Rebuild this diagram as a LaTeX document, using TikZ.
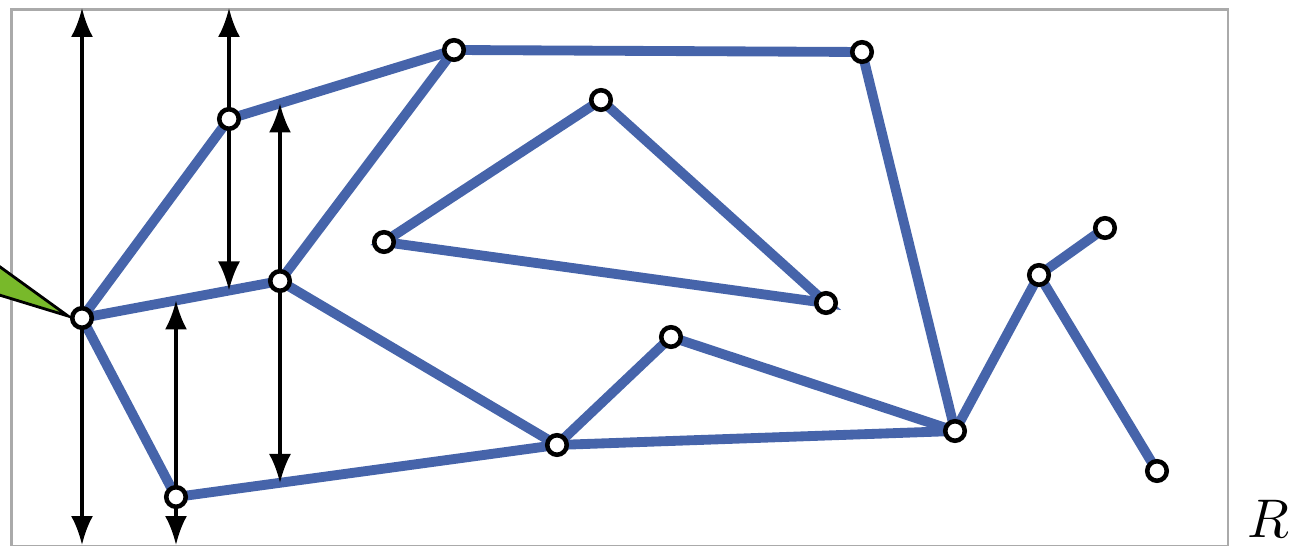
\documentclass[tikz,border=0pt]{standalone}
\usetikzlibrary{arrows.meta}
\definecolor{edgeblue}{HTML}{4664AA}
\definecolor{conegreen}{HTML}{78B92A}
\definecolor{framegray}{HTML}{AAAAAA}
\begin{document}
\begin{tikzpicture}[x=0.02cm,y=-0.02cm,
  edge/.style={edgeblue,line width=5.6pt,line cap=round},
  vtx/.style={circle,draw=black,fill=white,line width=2.6pt,minimum size=0.39cm,inner sep=0pt},
  ray/.style={black,line width=2pt,{Latex[length=0.58cm,width=0.44cm]}-{Latex[length=0.58cm,width=0.44cm]}}]
\useasboundingbox (0,0) rectangle (1303,546);
\clip (0,0) rectangle (1303,546);
% frame
\node[draw=framegray,line width=1.5pt,minimum width=24.34cm,minimum height=10.74cm,inner sep=0pt,anchor=north west] (frame) at (10,8) {};
% points
\coordinate (A) at (82,318);
\coordinate (B) at (229,119);
\coordinate (C) at (280,281);
\coordinate (D) at (454,50);
\coordinate (E) at (862,52);
\coordinate (F) at (176,497);
\coordinate (G) at (557,445);
\coordinate (H) at (671,337);
\coordinate (I) at (955,431);
\coordinate (J) at (1039,275);
\coordinate (K) at (1105,228);
\coordinate (L) at (1157,471);
\coordinate (M) at (601,100);
\coordinate (N) at (384,242);
\coordinate (O) at (826,303);
% green cone
\filldraw[fill=conegreen,draw=black,line width=1.6pt] (-40,238) -- (68,316) -- (-40,283) -- cycle;
% edges
\draw[edge] (A) -- (B) -- (D) -- (E) -- (I);
\draw[edge] (A) -- (C) -- (D);
\draw[edge] (C) -- (G);
\draw[edge] (A) -- (F) -- (G) -- (H) -- (I);
\draw[edge] (G) -- (I) -- (J) -- (K);
\draw[edge] (J) -- (L);
\draw[edge] (M) -- (N) -- (O) -- cycle;
% rays
\coordinate (r1t) at (82,8);
\coordinate (r1b) at (82,545);
\coordinate (r2t) at (229,8);
\coordinate (r2b) at (229,290.5);
\coordinate (r3t) at (280,103.4);
\coordinate (r3b) at (280,483);
\coordinate (r4t) at (176,300.4);
\coordinate (r4b) at (176,545);
\draw[ray] (r1t) -- (r1b);
\draw[ray] (r2t) -- (r2b);
\draw[ray] (r3t) -- (r3b);
\draw[ray] (r4t) -- (r4b);
% vertices
\foreach \p in {A,B,C,D,E,F,G,H,I,J,K,L,M,N,O}
  \node[vtx] (v\p) at (\p) {};
% label
\node[anchor=base west,inner sep=0pt] (lab) at (1247,538) {\scalebox{3.1}{$R$}};
\end{tikzpicture}
\end{document}
